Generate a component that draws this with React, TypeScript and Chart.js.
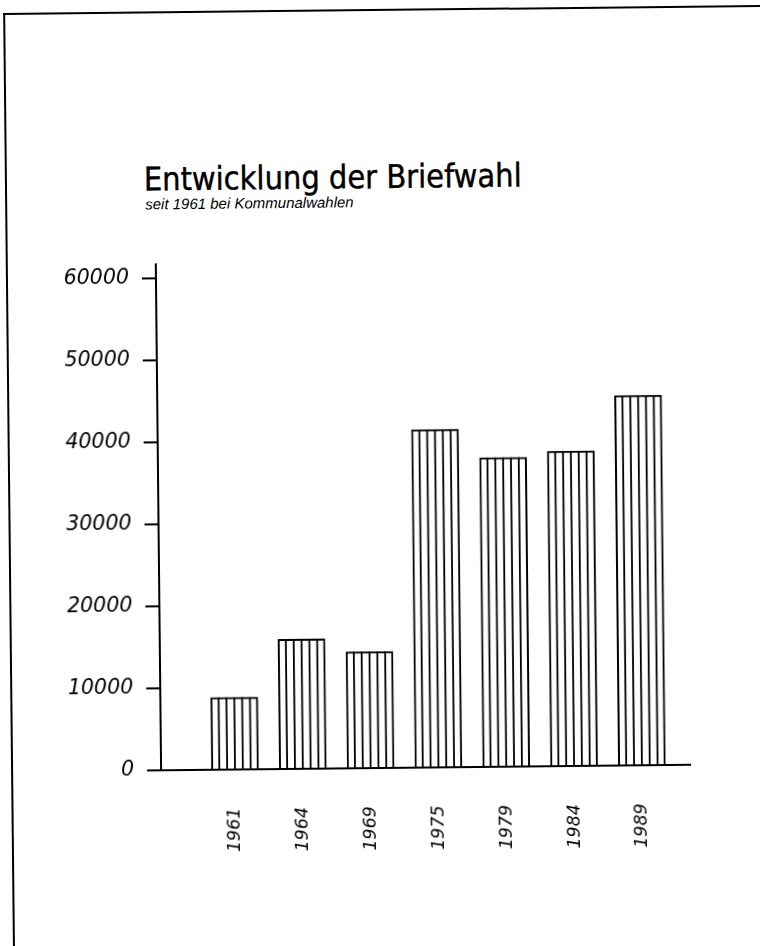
import React, { useEffect, useRef } from 'react';
import { Chart, registerables } from 'chart.js';

Chart.register(...registerables);

const years = ['1961', '1964', '1969', '1975', '1979', '1984', '1989'];
const votes = [8800, 15800, 14200, 41200, 37700, 38400, 45100];
const yTicks = [0, 10000, 20000, 30000, 40000, 50000, 60000];
const titleText = 'Entwicklung der Briefwahl';
const subtitleText = 'seit 1961 bei Kommunalwahlen';

const stripes = {
  id: 'stripes',
  afterDatasetsDraw(chart: any) {
    const ctx = chart.ctx;
    chart.getSortedVisibleDatasetMetas().forEach((meta: any) => {
      meta.data.forEach((el: any) => {
        const { x, y, base, width } = el.getProps(['x', 'y', 'base', 'width'], true);
        const left = x - width / 2;
        ctx.save();
        ctx.strokeStyle = '#000';
        ctx.lineWidth = 1.8;
        ctx.beginPath();
        for (let k = 1; k < 6; k++) {
          const lx = left + (k * width) / 6;
          ctx.moveTo(lx, y);
          ctx.lineTo(lx, base);
        }
        ctx.stroke();
        ctx.restore();
      });
    });
  },
};

export default function App() {
  const ref = useRef<HTMLCanvasElement>(null);

  useEffect(() => {
    const chart = new Chart(ref.current as HTMLCanvasElement, {
      type: 'bar',
      data: {
        datasets: [
          {
            data: years.map((_, i) => ({ x: i, y: votes[i] })),
            backgroundColor: '#ffffff',
            borderColor: '#000000',
            borderWidth: 2,
            barThickness: 47,
          } as any,
        ],
      },
      options: {
        animation: false,
        responsive: false,
        maintainAspectRatio: false,
        layout: { padding: { top: 262, right: 73, left: 0, bottom: 0 } },
        plugins: { legend: { display: false }, tooltip: { enabled: false }, title: { display: false } },
        scales: {
          x: {
            type: 'linear',
            position: 'bottom',
            offset: false,
            min: -1.09,
            max: 6.71,
            grid: { display: false, offset: false },
            border: { display: true, color: '#000', width: 2 },
            afterBuildTicks: (axis: any) => {
              axis.ticks = years.map((_, i) => ({ value: i }));
            },
            afterFit: (scale: any) => {
              scale.height = 178;
            },
            ticks: {
              autoSkip: false,
              minRotation: 90,
              maxRotation: 90,
              padding: 30,
              color: '#000',
              font: { family: "'DejaVu Sans', sans-serif", size: 17.5, style: 'italic' },
              callback: (v: any) => years[Math.round(Number(v))] ?? '',
            },
          },
          y: {
            type: 'linear',
            min: 0,
            max: 61700,
            grid: { display: true, drawOnChartArea: false, drawTicks: true, tickLength: 14, color: '#000', lineWidth: 2 },
            border: { display: true, color: '#000', width: 2 },
            afterBuildTicks: (axis: any) => {
              axis.ticks = yTicks.map((v) => ({ value: v }));
            },
            afterFit: (scale: any) => {
              scale.width = 158;
            },
            ticks: {
              padding: 13,
              color: '#000',
              font: { family: "'DejaVu Sans', sans-serif", size: 20.5, style: 'italic' },
              callback: (v: any) => String(v),
            },
          },
        },
      } as any,
      plugins: [stripes],
    });
    return () => chart.destroy();
  }, []);

  return (
    <div style={{ position: 'fixed', left: 0, top: 0, width: 760, height: 946, overflow: 'hidden', background: '#fff' }}>
      <div
        style={{
          position: 'absolute',
          left: 0,
          top: 0,
          width: 760,
          height: 946,
          transform: 'rotate(-0.6deg)',
          transformOrigin: '380px 473px',
        }}
      >
        <div
          style={{
            position: 'absolute',
            left: 8,
            top: 9,
            width: 900,
            height: 1100,
            borderTop: '2px solid #000',
            borderLeft: '2px solid #000',
          }}
        />
        <div
          style={{
            position: 'absolute',
            left: 147,
            top: 161,
            fontFamily: "'DejaVu Sans', sans-serif",
            fontSize: 29,
            whiteSpace: 'nowrap',
            color: '#000',
            WebkitTextStroke: '0.4px #000',
            transform: 'scaleY(1.12)',
            transformOrigin: '0px 27px',
          }}
        >
          {titleText}
        </div>
        <div
          style={{
            position: 'absolute',
            left: 148,
            top: 193,
            fontFamily: "'Liberation Sans', Arial, sans-serif",
            fontStyle: 'italic',
            fontSize: 15,
            whiteSpace: 'nowrap',
            color: '#000',
          }}
        >
          {subtitleText}
        </div>
        <canvas ref={ref} width={760} height={946} style={{ position: 'absolute', left: 0, top: 0 }} />
      </div>
    </div>
  );
}
